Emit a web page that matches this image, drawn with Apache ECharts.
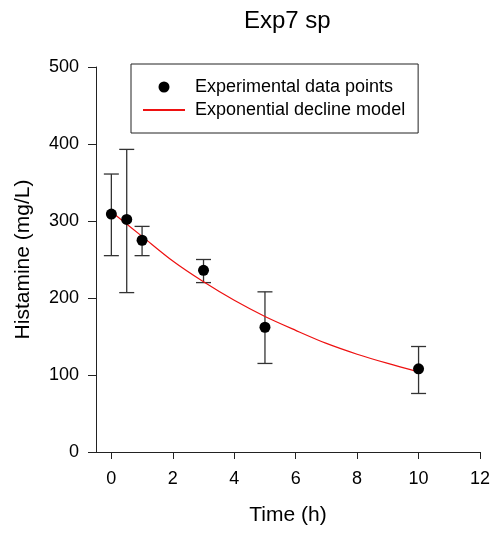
<!DOCTYPE html>
<html>
<head>
<meta charset="utf-8">
<script src="https://cdn.jsdelivr.net/npm/echarts@6/dist/echarts.min.js"></script>
<style>html,body{margin:0;padding:0;background:#fff}#c{width:494px;height:533px}</style>
</head>
<body>
<div id="c"></div>
<script>
const times = [0, 0.5, 1, 3, 5, 10];
const means = [309, 302, 275, 236, 162, 108];
const upper = [361, 393, 293, 250, 208, 137];
const lower = [255, 207, 255, 220, 115, 76];
const modelT = [0, 1, 2, 3, 4, 5, 6, 7, 8, 9, 10];
const modelY = [312, 280, 248, 221, 197, 176, 158, 141, 127, 115, 104];
const xTicks = [0, 2, 4, 6, 8, 10, 12];

const FONT = 'Liberation Sans, Arial, sans-serif';
const AX = '#222';

const chart = echarts.init(document.getElementById('c'), null, {renderer: 'canvas'});
const errData = times.map((t, i) => [t, lower[i], upper[i]]);
chart.setOption({
  animation: false,
  backgroundColor: '#fff',
  title: {
    text: 'Exp7 sp', left: 244, top: 9, padding: 0,
    textStyle: {fontFamily: FONT, fontSize: 24, fontWeight: 'normal', color: '#000'}
  },
  legend: {
    orient: 'vertical', left: 131, top: 64,
    padding: [14, 13, 14, 11], itemGap: 5,
    itemWidth: 42, itemHeight: 11,
    borderColor: '#222', borderWidth: 1,
    textStyle: {fontFamily: FONT, fontSize: 18, color: '#000', padding: [0, 0, 0, 5]},
    data: [
      {name: 'Experimental data points', icon: 'circle'},
      {name: 'Exponential decline model', itemStyle: {opacity: 0}}
    ]
  },
  grid: {left: 96, right: 14, top: 67, bottom: 81, containLabel: false, outerBoundsMode: 'none'},
  xAxis: {
    type: 'value', min: -0.5, max: 12,
    name: 'Time (h)', nameLocation: 'middle', nameGap: 53,
    nameTextStyle: {fontFamily: FONT, fontSize: 21, color: '#000'},
    axisLine: {show: true, onZero: false, lineStyle: {color: AX, width: 1}},
    axisTick: {show: true, length: 7, customValues: xTicks, lineStyle: {color: AX}},
    axisLabel: {customValues: xTicks, margin: 18, fontFamily: FONT, fontSize: 18, color: '#000'},
    splitLine: {show: false}
  },
  yAxis: {
    type: 'value', min: 0, max: 500, interval: 100,
    name: 'Histamine (mg/L)', nameLocation: 'middle', nameGap: 62,
    nameTextStyle: {fontFamily: FONT, fontSize: 21, color: '#000'},
    axisLine: {show: true, onZero: false, lineStyle: {color: AX, width: 1}},
    axisTick: {show: true, length: 8, lineStyle: {color: AX}},
    axisLabel: {margin: 17, fontFamily: FONT, fontSize: 18, color: '#000'},
    splitLine: {show: false}
  },
  series: [
    {
      type: 'custom',
      data: errData,
      encode: {x: 0, y: [1, 2]},
      z: 2,
      renderItem: function (params, api) {
        const x = api.value(0);
        const lo = api.coord([x, api.value(1)]);
        const hi = api.coord([x, api.value(2)]);
        const hw = 7.5;
        const st = {stroke: '#333', lineWidth: 1.3};
        return {
          type: 'group',
          children: [
            {type: 'line', shape: {x1: lo[0], y1: lo[1], x2: hi[0], y2: hi[1]}, style: st},
            {type: 'line', shape: {x1: lo[0] - hw, y1: lo[1], x2: lo[0] + hw, y2: lo[1]}, style: st},
            {type: 'line', shape: {x1: hi[0] - hw, y1: hi[1], x2: hi[0] + hw, y2: hi[1]}, style: st}
          ]
        };
      }
    },
    {
      name: 'Exponential decline model',
      type: 'line',
      data: modelT.map((t, i) => [t, modelY[i]]),
      symbol: 'none',
      smooth: 0.3,
      z: 3,
      lineStyle: {color: '#ee1111', width: 1.2},
      itemStyle: {color: '#ee1111'}
    },
    {
      name: 'Experimental data points',
      type: 'scatter',
      data: times.map((t, i) => [t, means[i]]),
      symbol: 'circle',
      symbolSize: 11,
      z: 4,
      itemStyle: {color: '#000', opacity: 1}
    }
  ]
});
</script>
</body>
</html>
